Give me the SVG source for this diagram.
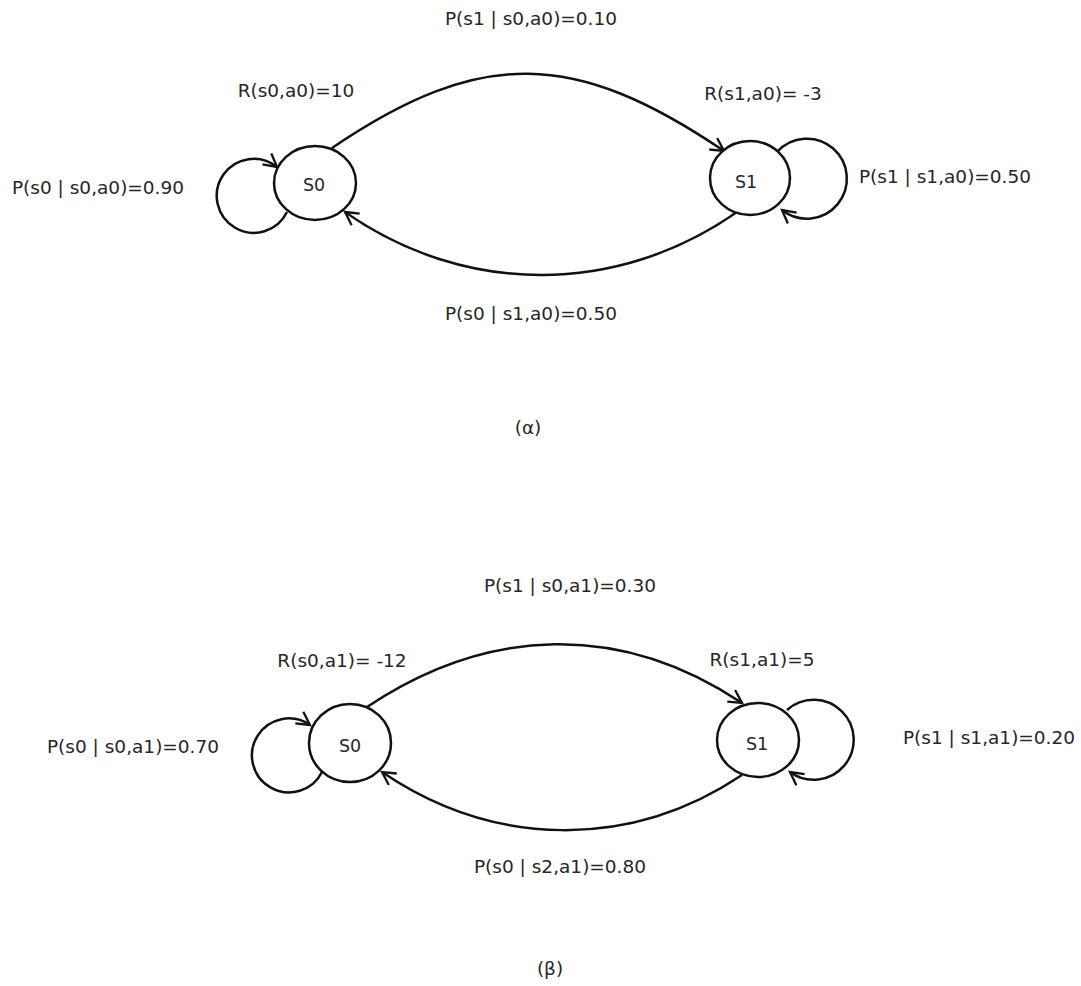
<svg xmlns="http://www.w3.org/2000/svg" width="1081" height="986" viewBox="0 0 1081 986">
  <defs>
    <style>
      .state { fill: #ffffff; stroke: #111111; stroke-width: 2.5; }
      .edge { fill: none; stroke: #111111; stroke-width: 2.5; marker-end: url(#arrow); }
      .lbl { font-family: "DejaVu Sans", Verdana, sans-serif; font-size: 18.5px; fill: #262626; text-anchor: middle; }
      .name { font-family: "DejaVu Sans", Verdana, sans-serif; font-size: 17.5px; fill: #262626; text-anchor: middle; }
    </style>
    <marker id="arrow" markerUnits="userSpaceOnUse" markerWidth="18" markerHeight="18" refX="14" refY="8" orient="auto">
      <path d="M1,1 L14,8 L1,15" fill="none" stroke="#111111" stroke-width="2.3" stroke-linejoin="miter"/>
    </marker>
  </defs>
  <rect width="1081" height="986" fill="#ffffff"/>

  <!-- connectors -->
  <g id="connectors">
    <!-- action a0 -->
    <path class="edge" d="M332,148 C481,47 575,50 724,151"/>
    <path class="edge" d="M737,212 C617,296 465,296 345,212"/>
    <path class="edge" d="M287,212 A37,37 0 1 1 277,167"/>
    <path class="edge" d="M777,152 A40,40 0 1 1 782,210"/>
    <!-- action a1 -->
    <path class="edge" d="M367,707 C488,626 621,622 742,703"/>
    <path class="edge" d="M742,775 C630,850 494,848 382,772"/>
    <path class="edge" d="M322,772 A37,37 0 1 1 310,725"/>
    <path class="edge" d="M787,710 A40,40 0 1 1 790,772"/>
  </g>

  <!-- states, action a0 -->
  <g id="a0-s0">
    <ellipse class="state" cx="315" cy="183" rx="41" ry="37"/>
    <text class="name" x="314" y="191">S0</text>
  </g>
  <g id="a0-s1">
    <ellipse class="state" cx="750" cy="178" rx="40" ry="37"/>
    <text class="name" x="746" y="188">S1</text>
  </g>

  <!-- states, action a1 -->
  <g id="a1-s0">
    <ellipse class="state" cx="350" cy="743" rx="41" ry="39"/>
    <text class="name" x="350" y="752">S0</text>
  </g>
  <g id="a1-s1">
    <ellipse class="state" cx="758" cy="740" rx="41" ry="37"/>
    <text class="name" x="757" y="750">S1</text>
  </g>

  <!-- labels, action a0 -->
  <g id="labels-a0">
    <text class="lbl" x="531" y="25">P(s1 | s0,a0)=0.10</text>
    <text class="lbl" x="296" y="97">R(s0,a0)=10</text>
    <text class="lbl" x="763" y="100">R(s1,a0)= -3</text>
    <text class="lbl" x="98" y="194">P(s0 | s0,a0)=0.90</text>
    <text class="lbl" x="945" y="183">P(s1 | s1,a0)=0.50</text>
    <text class="lbl" x="531" y="320">P(s0 | s1,a0)=0.50</text>
    <text class="lbl" x="528" y="434">(α)</text>
  </g>

  <!-- labels, action a1 -->
  <g id="labels-a1">
    <text class="lbl" x="570" y="592">P(s1 | s0,a1)=0.30</text>
    <text class="lbl" x="342" y="667">R(s0,a1)= -12</text>
    <text class="lbl" x="762" y="666">R(s1,a1)=5</text>
    <text class="lbl" x="133" y="753">P(s0 | s0,a1)=0.70</text>
    <text class="lbl" x="989" y="744">P(s1 | s1,a1)=0.20</text>
    <text class="lbl" x="560" y="873">P(s0 | s2,a1)=0.80</text>
    <text class="lbl" x="550" y="975">(β)</text>
  </g>
</svg>
